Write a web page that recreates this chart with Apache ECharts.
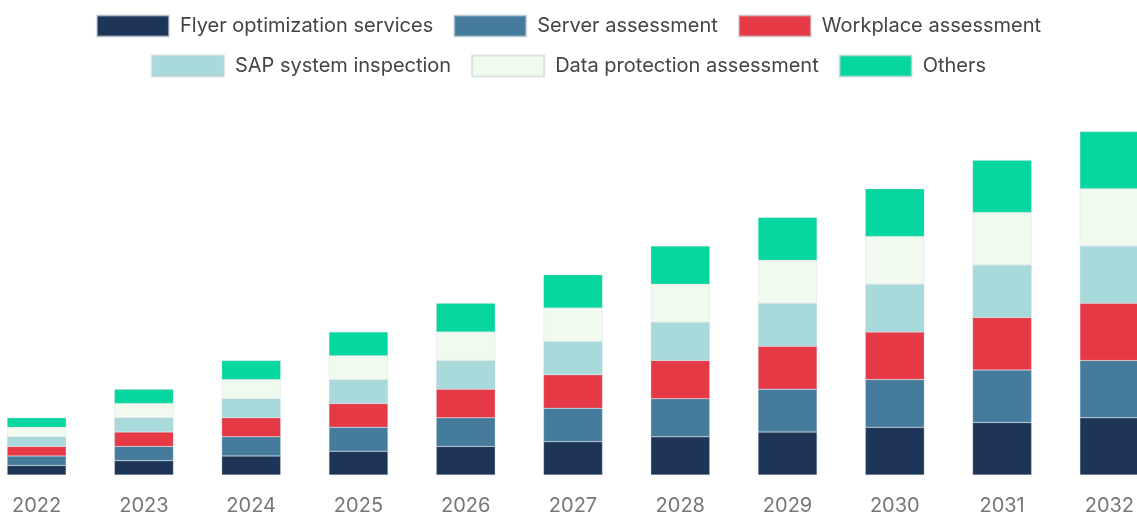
<!DOCTYPE html>
<html>
<head>
<meta charset="utf-8">
<script src="https://cdn.jsdelivr.net/npm/echarts@6/dist/echarts.min.js"></script>
<style>
html,body{margin:0;padding:0;background:#fff;}
#chart{width:1137px;height:518px;}
</style>
</head>
<body>
<div id="chart"></div>
<script>
const years = ['2022','2023','2024','2025','2026','2027','2028','2029','2030','2031','2032'];
const seriesNames = ['Flyer optimization services','Server assessment','Workplace assessment','SAP system inspection','Data protection assessment','Others'];
const flyerOptimization = [10,15,20,25,30,35,40,45,50,55,60];
const serverAssessment = [10,15,20,25,30,35,40,45,50,55,60];
const workplaceAssessment = [10,15,20,25,30,35,40,45,50,55,60];
const sapInspection = [10,15,20,25,30,35,40,45,50,55,60];
const dataProtection = [10,15,20,25,30,35,40,45,50,55,60];
const others = [10,15,20,25,30,35,40,45,50,55,60];
const colors = ['#1d3557','#457b9d','#e63946','#a8dadc','#f1faee','#06d6a0'];

const allData = [flyerOptimization, serverAssessment, workplaceAssessment, sapInspection, dataProtection, others];
const fontFam = 'Inter, "Liberation Sans", Arial, sans-serif';

const legendCommon = {
  left: 'center',
  padding: 0,
  itemWidth: 72,
  itemHeight: 21,
  itemGap: 20,
  icon: 'rect',
  textStyle: {fontSize: 20, color: '#444', fontFamily: fontFam, padding: [0,0,0,6]}
};

const chart = echarts.init(document.getElementById('chart'), null, {renderer: 'canvas'});
chart.setOption({
  animation: false,
  color: colors,
  legend: [
    Object.assign({}, legendCommon, {top: 14.5, data: seriesNames.slice(0,3)}),
    Object.assign({}, legendCommon, {top: 54.5, data: seriesNames.slice(3)})
  ],
  grid: {left: -17, width: 1180, top: 131.5, height: 343.5, containLabel: false, outerBoundsMode: 'none'},
  xAxis: {
    type: 'category',
    data: years,
    axisLine: {show: false},
    axisTick: {show: false},
    axisLabel: {fontSize: 20, color: '#777', fontFamily: fontFam, margin: 21}
  },
  yAxis: {
    type: 'value',
    min: 0,
    max: 360,
    show: false,
    splitLine: {show: false}
  },
  series: seriesNames.map((n, i) => ({
    name: n,
    type: 'bar',
    stack: 'total',
    barWidth: '55%',
    data: allData[i],
    itemStyle: {color: colors[i], borderColor: 'rgba(200,210,215,0.6)', borderWidth: 0.5}
  }))
});
</script>
</body>
</html>
